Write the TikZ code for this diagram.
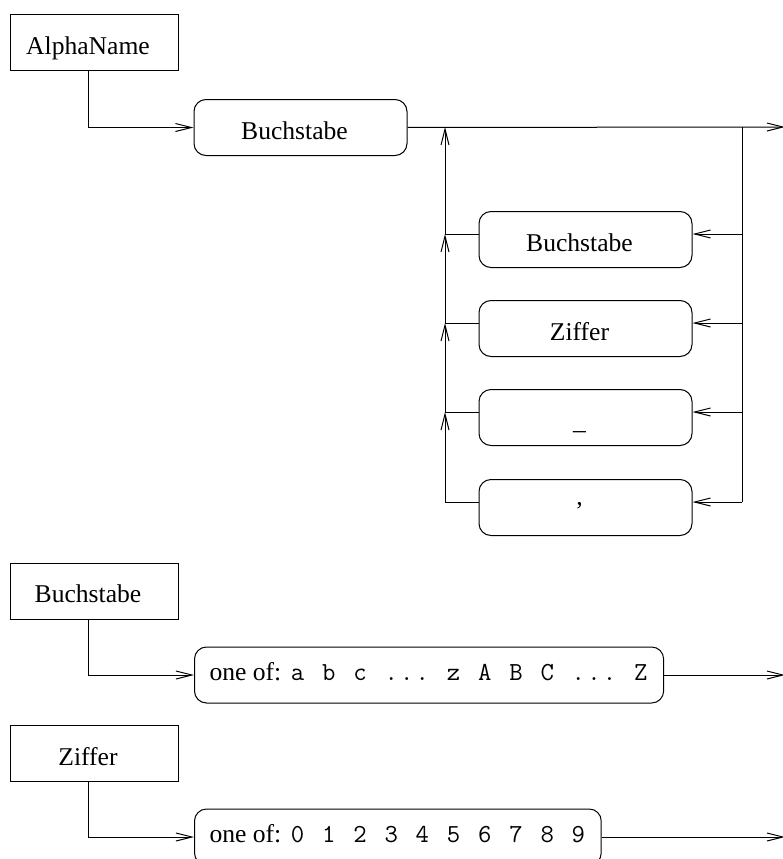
\documentclass[tikz,border=0pt]{standalone}
\usepackage{fontspec}
\setmainfont{Liberation Serif}
\usetikzlibrary{arrows.meta}

% syntax-diagram styles
\tikzset{
  lbl/.style={font=\fontsize{25.6}{30}\selectfont, text height=23pt, text depth=0pt,
              inner sep=0pt, draw, line width=1pt},
  namebox/.style={lbl, rectangle, minimum width=168pt, minimum height=56pt},
  termbox/.style={lbl, rounded corners=12pt, minimum width=213pt, minimum height=56pt},
  listbox/.style={lbl, rounded corners=12pt, minimum height=56pt, text height=11pt,
                  inner xsep=15pt, anchor=west},
  wire/.style={line width=1pt},
  conn/.style={line width=1pt, -{Straight Barb[length=16pt,width=8pt,line width=1pt]}}
}
% label text set slightly left of the box centre
\newcommand{\lbltext}[1]{#1\hspace*{12pt}}
% light typewriter face, one cell per character
\newcommand{\mcell}[1]{\makebox[15.6pt][c]{#1}}
\newcommand{\codetext}[1]{{\fontsize{26}{30}\selectfont\ttfamily #1}}

\begin{document}
\begin{tikzpicture}[x=1pt, y=-1pt]
\useasboundingbox (0,0) rectangle (782,859);

% ---- AlphaName ----
\node[namebox] (alpha) at (94,43) {\lbltext{AlphaName}};
\node[termbox] (buch) at (300.5,127.5) {\lbltext{Buchstabe}};

\node[termbox] (lb1) at (585.5,239.5) {\lbltext{Buchstabe}};
\node[termbox] (lb2) at (585.5,328.5) {\lbltext{Ziffer}};
\node[termbox] (lb3) at (585.5,417.5) {\lbltext{\_}};
\node[termbox] (lb4) at (585.5,507.5) {\lbltext{’}};

\coordinate (jR0) at (742,127);
\coordinate (jL0) at (445,127);
\coordinate (out1) at (785,127);
\coordinate (jR1) at (742,234);  \coordinate (jL1) at (445,234);
\coordinate (jR2) at (742,323);  \coordinate (jL2) at (445,323);
\coordinate (jR3) at (742,412);  \coordinate (jL3) at (445,412);
\coordinate (jR4) at (742,502);  \coordinate (jL4) at (445,502);

\draw[conn] ([xshift=-6pt]alpha.south) |- (buch.west);
\draw[conn] (buch.east) -- (out1);
\draw[wire] (jR0) -- (jR4);

\foreach \i in {1,2,3,4}{
  \draw[conn] (jR\i) -- (jR\i -| lb\i.east);
  \draw[wire] (lb\i.west |- jR\i) -- (jL\i);
}
\draw[conn] (jL4) -- (jL3);
\draw[conn] (jL3) -- (jL2);
\draw[conn] (jL2) -- (jL1);
\draw[conn] (jL1) -- (jL0);

% ---- Buchstabe ----
\node[namebox] (bname) at (94,591) {\lbltext{Buchstabe}};
\node[listbox] (list1) at (194,675) {one of: \codetext{%
  \mcell{a}\mcell{}\mcell{b}\mcell{}\mcell{c}\mcell{}\mcell{.}\mcell{.}\mcell{.}\mcell{}%
  \mcell{z}\mcell{}\mcell{A}\mcell{}\mcell{B}\mcell{}\mcell{C}\mcell{}%
  \mcell{.}\mcell{.}\mcell{.}\mcell{}\mcell{Z}}};
\coordinate (out2) at (785,675);
\draw[conn] ([xshift=-6pt]bname.south) |- (list1.west);
\draw[conn] (list1.east) -- (out2);

% ---- Ziffer ----
\node[namebox] (zname) at (94,753.5) {\lbltext{Ziffer}};
\node[listbox] (list2) at (194,837) {one of: \codetext{%
  \mcell{0}\mcell{}\mcell{1}\mcell{}\mcell{2}\mcell{}\mcell{3}\mcell{}\mcell{4}\mcell{}%
  \mcell{5}\mcell{}\mcell{6}\mcell{}\mcell{7}\mcell{}\mcell{8}\mcell{}\mcell{9}}};
\coordinate (out3) at (785,837);
\draw[conn] ([xshift=-6pt]zname.south) |- (list2.west);
\draw[conn] (list2.east) -- (out3);
\end{tikzpicture}
\end{document}
